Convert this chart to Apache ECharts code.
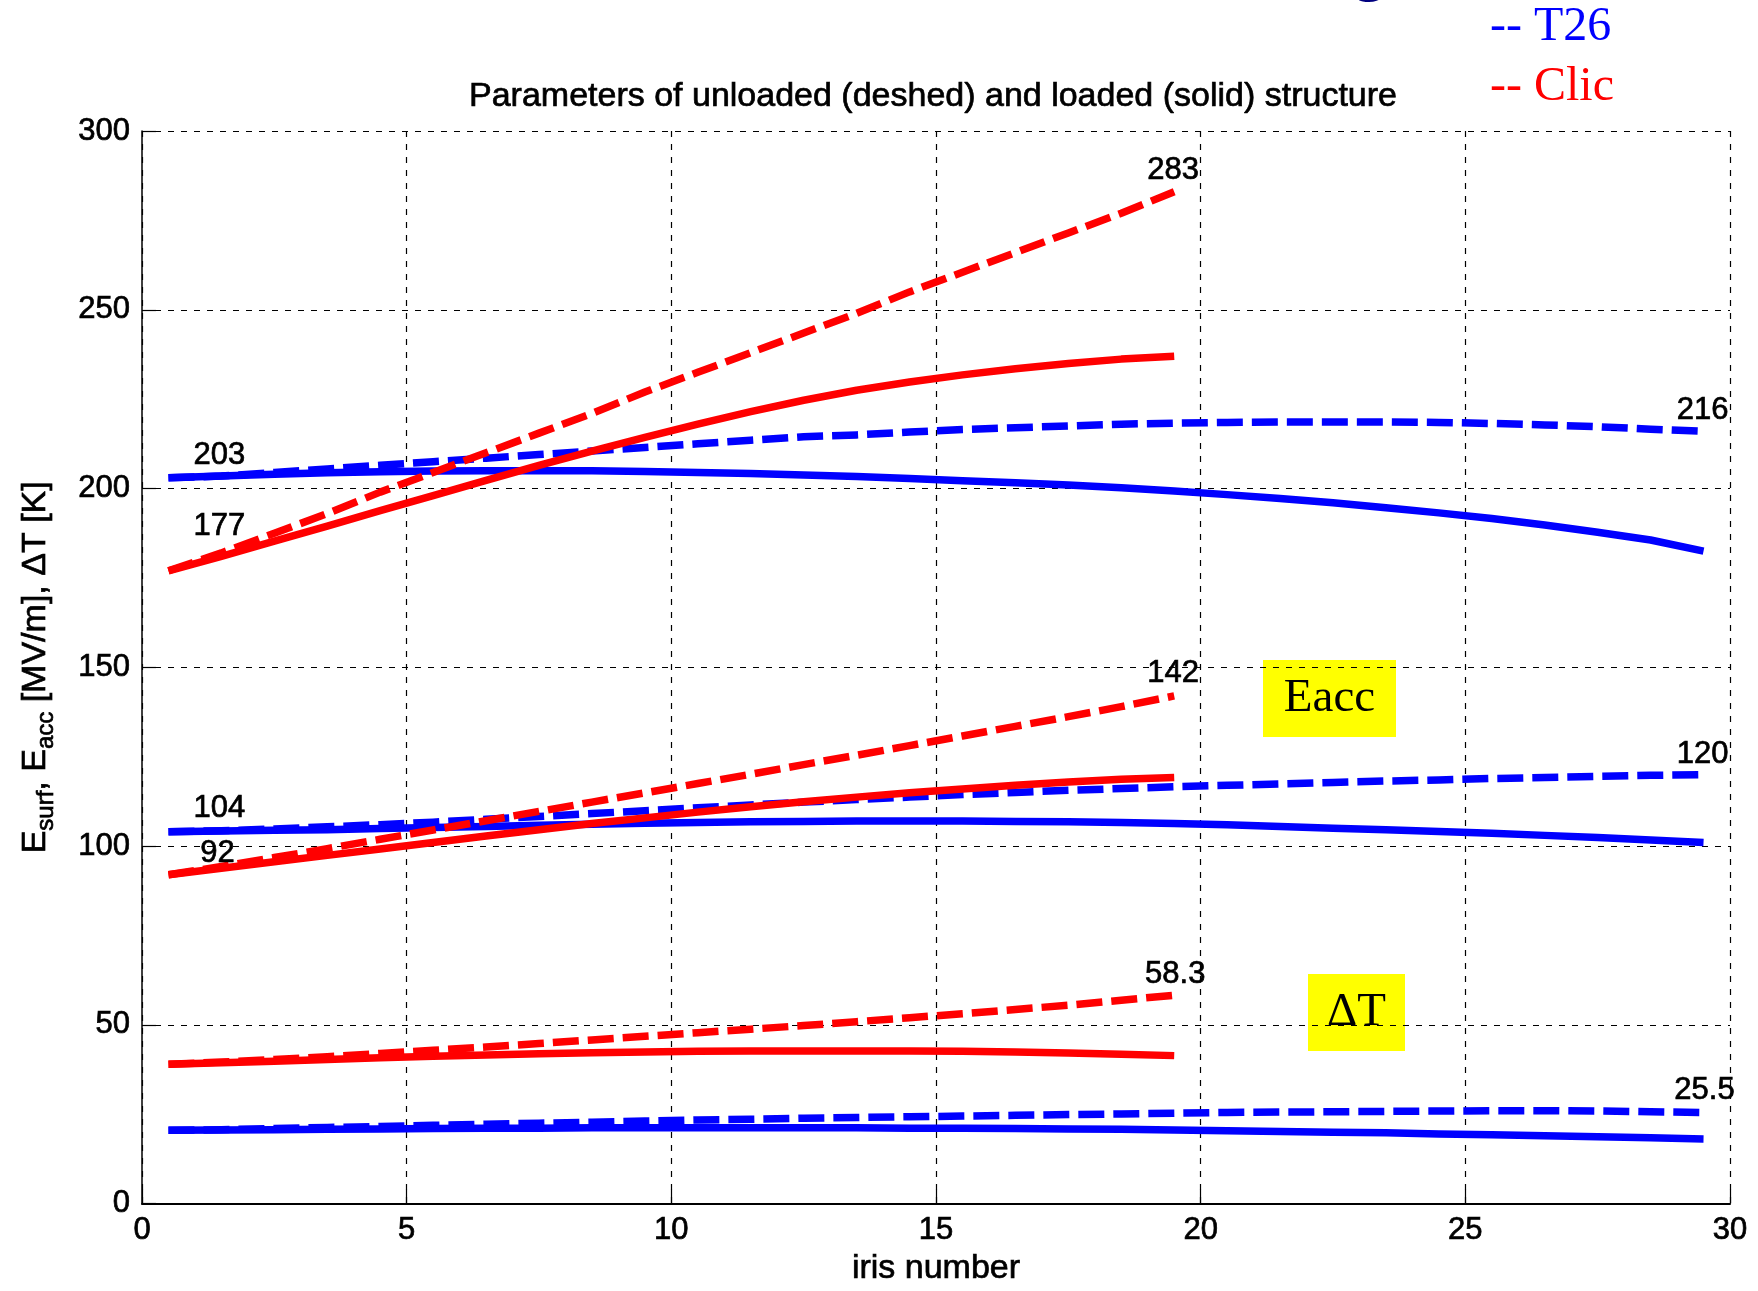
<!DOCTYPE html>
<html>
<head>
<meta charset="utf-8">
<script src="https://cdn.jsdelivr.net/npm/echarts@6/dist/echarts.min.js"></script>
<style>
html,body{margin:0;padding:0;background:#fff;}
#chart{width:1758px;height:1291px;}
</style>
</head>
<body>
<div id="chart"></div>
<script>
// ---------------- data ----------------
const irisT26 = [0.5,1.5,2.5,3.5,4.5,5.5,6.5,7.5,8.5,9.5,10.5,11.5,12.5,13.5,14.5,15.5,16.5,17.5,18.5,19.5,20.5,21.5,22.5,23.5,24.5,25.5,26.5,27.5,28.5,29.5];
const irisClic = [0.5,1.5,2.5,3.5,4.5,5.5,6.5,7.5,8.5,9.5,10.5,11.5,12.5,13.5,14.5,15.5,16.5,17.5,18.5,19.5];

// Esurf
const t26EsurfUnloaded = [203,203.5,204.5,205.5,206.5,207.5,208.5,209.5,210.5,211.5,212.5,213.5,214.5,215,215.8,216.5,217,217.5,218,218.3,218.5,218.6,218.6,218.6,218.5,218.2,217.8,217.3,216.6,216];
const t26EsurfLoaded   = [203,203.5,204,204.4,204.7,204.9,205,205,205,204.8,204.5,204.2,203.8,203.4,202.8,202.2,201.6,201,200.2,199.3,198.3,197.2,196,194.6,193.2,191.6,189.8,187.8,185.6,182.5];
const clicEsurfUnloaded = [177,182,187.5,193,199,204.5,210,215.5,221,227,232.5,238,243.5,249,255,260.5,266,271.5,277,283];
const clicEsurfLoaded   = [177,181,185.3,189.5,193.8,198,202.3,206.5,210.5,214.3,218,221.5,224.7,227.5,229.8,231.8,233.5,235,236.2,237];

// Eacc
const t26EaccUnloaded = [104,104.3,104.8,105.4,106,106.7,107.5,108.3,109.1,109.9,110.7,111.5,112.3,113,113.7,114.4,115,115.6,116.1,116.6,117,117.4,117.8,118.2,118.5,118.9,119.2,119.5,119.8,120];
const t26EaccLoaded   = [104,104.2,104.4,104.6,104.9,105.2,105.5,105.8,106.1,106.4,106.6,106.8,106.9,107,107,107,106.9,106.8,106.6,106.3,106,105.5,105,104.6,104.1,103.6,103,102.4,101.7,101];
const clicEaccUnloaded = [92,94.3,96.8,99.3,101.9,104.5,107.1,109.7,112.3,114.9,117.5,120.1,122.8,125.4,128.1,130.8,133.5,136.2,139,142];
const clicEaccLoaded   = [92,93.8,95.6,97.4,99.2,101,102.8,104.6,106.3,107.9,109.5,111,112.4,113.7,114.9,116,117,117.9,118.7,119.2];

// Delta T
const t26DTUnloaded = [20.5,20.7,21,21.3,21.6,21.9,22.2,22.5,22.8,23.1,23.4,23.6,23.9,24.1,24.3,24.5,24.7,24.9,25.1,25.3,25.5,25.6,25.7,25.8,25.9,26,26,25.9,25.7,25.5];
const t26DTLoaded   = [20.5,20.6,20.7,20.8,20.9,21,21.1,21.1,21.2,21.2,21.2,21.2,21.2,21.2,21.1,21.1,21,20.9,20.8,20.6,20.4,20.2,20,19.8,19.5,19.3,19,18.7,18.4,18.1];
const clicDTUnloaded = [39,39.6,40.3,41.1,42,42.9,43.8,44.8,45.8,46.8,47.8,48.8,49.8,50.9,52,53.1,54.3,55.5,56.9,58.3];
const clicDTLoaded   = [39,39.4,39.8,40.3,40.8,41.2,41.6,41.9,42.2,42.4,42.6,42.7,42.7,42.7,42.7,42.6,42.4,42.1,41.8,41.4];

const xTicks = [0,5,10,15,20,25,30];
const yTicks = [0,50,100,150,200,250,300];

const legendNames = ['T26','Clic'];
const titleText = 'Parameters of unloaded (deshed) and loaded (solid) structure';
const xAxisTitle = 'iris number';

// value labels: [text, iris array, value array, point index]
const valueLabels = [
  ['283', irisClic, clicEsurfUnloaded, 19],
  ['216', irisT26, t26EsurfUnloaded, 29],
  ['203', irisT26, t26EsurfUnloaded, 0],
  ['177', irisClic, clicEsurfUnloaded, 0],
  ['104', irisT26, t26EaccUnloaded, 0],
  ['92',  irisClic, clicEaccUnloaded, 0],
  ['142', irisClic, clicEaccUnloaded, 19],
  ['120', irisT26, t26EaccUnloaded, 29],
  ['58.3', irisClic, clicDTUnloaded, 19],
  ['25.5', irisT26, t26DTUnloaded, 29]
];

// ---------------- styling / layout ----------------
const labelOffsets = [[-1,-21],[-1,-21],[51,-22],[51,-44],[51,-23],[49,-21],[-1,-22],[-1,-20],[1,-21],[1,-22]];
const BLUE = '#0000ff', RED = '#ff0000';
const SANS = '"Liberation Sans", Arial, sans-serif';
const SERIF = '"Liberation Serif", "Times New Roman", serif';
const LW = 7.5;
const DASH = [26, 9];
const TXT = { color: '#000', textBorderColor: '#000', textBorderWidth: 0.7 };

function lineSeries(name, xs, ys, color, dashed, z) {
  return {
    type: 'line', name: name, z: z,
    data: xs.map((x, i) => [x, ys[i]]),
    showSymbol: false, symbol: 'none', silent: true,
    itemStyle: { color: color },
    lineStyle: { color: color, width: LW, type: dashed ? DASH : 'solid', cap: 'butt', join: 'round' },
    emphasis: { disabled: true }
  };
}

const series = [
  lineSeries('T26', irisT26, t26EsurfUnloaded, BLUE, true, 2),
  lineSeries('T26', irisT26, t26EsurfLoaded, BLUE, false, 2),
  lineSeries('T26', irisT26, t26EaccUnloaded, BLUE, true, 2),
  lineSeries('T26', irisT26, t26EaccLoaded, BLUE, false, 2),
  lineSeries('T26', irisT26, t26DTUnloaded, BLUE, true, 2),
  lineSeries('T26', irisT26, t26DTLoaded, BLUE, false, 2),
  lineSeries('Clic', irisClic, clicEsurfUnloaded, RED, true, 3),
  lineSeries('Clic', irisClic, clicEsurfLoaded, RED, false, 3),
  lineSeries('Clic', irisClic, clicEaccUnloaded, RED, true, 3),
  lineSeries('Clic', irisClic, clicEaccLoaded, RED, false, 3),
  lineSeries('Clic', irisClic, clicDTUnloaded, RED, true, 3),
  lineSeries('Clic', irisClic, clicDTLoaded, RED, false, 3),
  {
    type: 'scatter', name: 'values', z: 5, silent: true,
    symbolSize: 0, itemStyle: { color: '#000', opacity: 1 },
    emphasis: { disabled: true },
    data: valueLabels.map((v, i) => ({
      value: [v[1][v[3]], v[2][v[3]]],
      label: Object.assign({ show: true, formatter: v[0], position: 'inside', offset: labelOffsets[i],
               fontSize: 31, fontFamily: SANS, opacity: 1 }, TXT)
    }))
  }
];

const gridLine = { color: '#000', width: 1.2, type: [6, 7] };

const option = {
  animation: false,
  backgroundColor: '#fff',
  grid: { left: 142, right: 28, top: 131, bottom: 80, containLabel: false },
  legend: {
    orient: 'vertical', left: 1480, top: -2, icon: 'none', itemWidth: 0, itemHeight: 0, itemGap: 12,
    selectedMode: false, formatter: '-- {name}',
    textStyle: { fontFamily: SERIF, fontSize: 48 },
    data: [
      { name: legendNames[0], textStyle: { color: BLUE } },
      { name: legendNames[1], textStyle: { color: RED } }
    ]
  },
  xAxis: {
    type: 'value', min: xTicks[0], max: xTicks[xTicks.length - 1], interval: xTicks[1] - xTicks[0],
    name: xAxisTitle, nameLocation: 'middle', nameGap: 48,
    nameTextStyle: Object.assign({ fontSize: 34, fontFamily: SANS }, TXT),
    axisLine: { show: true, onZero: false, lineStyle: { color: '#000', width: 2 } },
    axisTick: { show: true, inside: true, length: 14, lineStyle: { color: '#000', width: 1.2 } },
    axisLabel: Object.assign({ fontSize: 31, fontFamily: SANS, margin: 11 }, TXT),
    splitLine: { show: true, lineStyle: gridLine }
  },
  yAxis: {
    type: 'value', min: yTicks[0], max: yTicks[yTicks.length - 1], interval: yTicks[1] - yTicks[0],
    name: 'E{sub|surf}, E{sub|acc} [MV/m], \u0394T [K]',
    nameLocation: 'middle', nameRotate: 90, nameGap: 84,
    nameTextStyle: Object.assign({
      fontSize: 34, fontFamily: SANS, lineHeight: 44,
      rich: { sub: Object.assign({ fontSize: 24, fontFamily: SANS, lineHeight: 20, verticalAlign: 'bottom' }, TXT) }
    }, TXT),
    axisLine: { show: true, lineStyle: { color: '#000', width: 1.5 } },
    axisTick: { show: true, inside: true, length: 14, lineStyle: { color: '#000', width: 1.2 } },
    axisLabel: Object.assign({ fontSize: 31, fontFamily: SANS, margin: 12 }, TXT),
    splitLine: { show: true, lineStyle: gridLine }
  },
  graphic: [
    { type: 'text', x: 933, y: 97, z: 10, silent: true,
      style: { text: titleText, fontSize: 34, fontFamily: SANS, fill: '#000', stroke: '#000', lineWidth: 0.7,
               align: 'center', verticalAlign: 'middle', textAlign: 'center', textVerticalAlign: 'middle' } },
    { type: 'text', x: 1370, y: 3, z: 10, silent: true,
      style: { text: 'g', fontSize: 72, fontWeight: 'bold', fontFamily: SANS, fill: '#00007f',
               align: 'center', verticalAlign: 'bottom', textAlign: 'center', textVerticalAlign: 'bottom' } },
    { type: 'group', x: 1263, y: 660, z: 10, silent: true, children: [
      { type: 'rect', shape: { x: 0, y: 0, width: 133, height: 77 }, style: { fill: '#ffff00' } },
      { type: 'text', x: 66.5, y: 39, style: { text: 'Eacc', fontSize: 47, fontFamily: SERIF, fill: '#000',
        align: 'center', verticalAlign: 'middle', textAlign: 'center', textVerticalAlign: 'middle' } }
    ] },
    { type: 'group', x: 1308, y: 974, z: 10, silent: true, children: [
      { type: 'rect', shape: { x: 0, y: 0, width: 97, height: 77 }, style: { fill: '#ffff00' } },
      { type: 'text', x: 48.5, y: 39, style: { text: '\u0394T', fontSize: 47, fontFamily: SERIF, fill: '#000',
        align: 'center', verticalAlign: 'middle', textAlign: 'center', textVerticalAlign: 'middle' } }
    ] }
  ],
  series: series
};

const chart = echarts.init(document.getElementById('chart'), null, { renderer: 'canvas' });
chart.setOption(option);
</script>
</body>
</html>
